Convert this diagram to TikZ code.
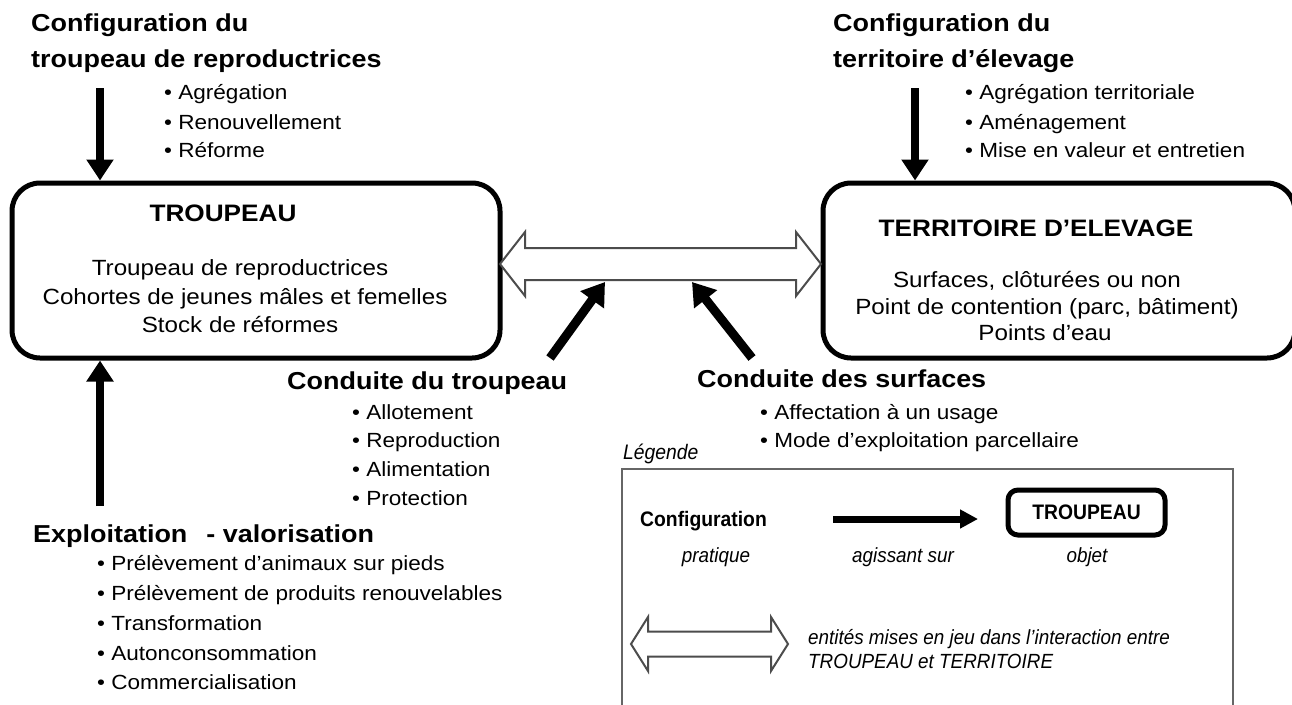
\documentclass[tikz,border=0pt]{standalone}
\usepackage{fontspec}
\setmainfont{Liberation Sans}[FakeStretch=1.1]
\newfontfamily\legfont{Liberation Sans}[FakeStretch=0.92]
\usetikzlibrary{arrows.meta,calc}
\newcommand{\fsz}[1]{\fontsize{#1}{#1}\selectfont}
\tikzset{
  head/.style={font=\fsz{24.5}\bfseries, anchor=base west, inner sep=0pt},
  item/.style={font=\fsz{20.5}, anchor=base west, inner sep=0pt},
  boxtitle/.style={font=\fsz{23.8}\bfseries, anchor=base, inner sep=0pt},
  boxtext/.style={font=\fsz{22}, anchor=base, inner sep=0pt},
  objbox/.style={draw, line width=5pt, rounded corners=28pt, inner sep=0pt},
  bigarrow/.style={line width=8pt, -{Triangle[length=21pt,width=26pt]}},
  diagarrow/.style={line width=9pt, -{Triangle[length=22pt,width=28pt]}},
  legarrow/.style={line width=7pt, -{Triangle[length=18pt,width=18pt]}},
  dblarrow/.style={draw=black!70, line width=2pt, fill=white, line join=miter},
  legbox/.style={draw=black!60, line width=2pt},
  legtext/.style={font=\legfont\fsz{20.5}\itshape, anchor=base, inner sep=0pt},
  legbold/.style={font=\legfont\fsz{21}\bfseries, inner sep=0pt},
}
\begin{document}
\begin{tikzpicture}[x=1pt,y=-1pt]
\useasboundingbox[fill=white] (0,0) rectangle (1292,704);

% objects
\node[objbox, minimum width=488pt, minimum height=175pt] (troupeau) at (256,270.5) {};
\node[objbox, minimum width=472pt, minimum height=175pt] (territoire) at (1059,270.5) {};

\node[boxtitle] (tT) at (223,221) {TROUPEAU};
\node[boxtext] (tL1) at (240,275) {Troupeau de reproductrices};
\node[boxtext] (tL2) at (245,304) {Cohortes de jeunes mâles et femelles};
\node[boxtext] (tL3) at (240,332) {Stock de réformes};

\node[boxtitle] (rT) at (1036,236) {TERRITOIRE D’ELEVAGE};
\node[boxtext] (rL1) at (1037,287) {Surfaces, clôturées ou non};
\node[boxtext] (rL2) at (1047,314) {Point de contention (parc, bâtiment)};
\node[boxtext] (rL3) at (1045,340) {Points d’eau};

% configuration troupeau
\node[head] (cfgA1) at (31,31) {Configuration du};
\node[head] (cfgA2) at (31,67) {troupeau de reproductrices};
\node[item] (cfgAi1) at (164,99) {• Agrégation};
\node[item] (cfgAi2) at (164,129) {• Renouvellement};
\node[item] (cfgAi3) at (164,157) {• Réforme};
\coordinate (cfgAarr) at (100,88);
\draw[bigarrow] (cfgAarr) -- (cfgAarr |- troupeau.north);

% configuration territoire
\node[head] (cfgB1) at (833,31) {Configuration du};
\node[head] (cfgB2) at (833,67) {territoire d’élevage};
\node[item] (cfgBi1) at (965,99) {• Agrégation territoriale};
\node[item] (cfgBi2) at (965,129) {• Aménagement};
\node[item] (cfgBi3) at (965,157) {• Mise en valeur et entretien};
\coordinate (cfgBarr) at (915,88);
\draw[bigarrow] (cfgBarr) -- (cfgBarr |- territoire.north);

% double arrow between objects
\coordinate (dL) at (500,264);
\coordinate (dR) at (821,264);
\draw[dblarrow] (dL) -- ++(25,-32) -- ++(0,16) -- ($(dR)+(-25,-16)$) -- ++(0,-16) -- (dR)
  -- ++(-25,32) -- ++(0,-16) -- ($(dL)+(25,16)$) -- ++(0,16) -- cycle;

% conduite du troupeau
\coordinate (ctT) at (550,358);
\coordinate (ctH) at (605,282);
\draw[diagarrow] (ctT) -- (ctH);
\node[head] (ct) at (287,389) {Conduite du troupeau};
\node[item] (cti1) at (352,419) {• Allotement};
\node[item] (cti2) at (352,447) {• Reproduction};
\node[item] (cti3) at (352,476) {• Alimentation};
\node[item] (cti4) at (352,505) {• Protection};

% conduite des surfaces
\coordinate (csT) at (752,358);
\coordinate (csH) at (692,282);
\draw[diagarrow] (csT) -- (csH);
\node[head] (cs) at (697,387) {Conduite des surfaces};
\node[item] (csi1) at (760,419) {• Affectation à un usage};
\node[item] (csi2) at (760,447) {• Mode d’exploitation parcellaire};

% exploitation
\coordinate (exT) at (100,506);
\draw[bigarrow] (exT) -- (exT |- troupeau.south);
\node[head] (ex) at (33,542) {Exploitation\hspace{19pt}- valorisation};
\node[item] (exi1) at (97,570) {• Prélèvement d’animaux sur pieds};
\node[item] (exi2) at (97,600) {• Prélèvement de produits renouvelables};
\node[item] (exi3) at (97,630) {• Transformation};
\node[item] (exi4) at (97,660) {• Autonconsommation};
\node[item] (exi5) at (97,689) {• Commercialisation};

% legend
\node[font=\legfont\fsz{21}\itshape, anchor=base west, inner sep=0pt] (leg) at (623,459) {Légende};
\draw[legbox] (622,469) rectangle (1233,730);
\node[legbold, anchor=base west] (legCfg) at (640,526.5) {Configuration};
\node[legtext] (legPr) at (716,562) {pratique};
\coordinate (legA) at (833,519);
\coordinate (legB) at (978,519);
\draw[legarrow] (legA) -- (legB);
\node[legtext] (legAg) at (903,562) {agissant sur};
\node[draw, line width=5pt, rounded corners=10pt, minimum width=157pt, minimum height=45pt, legbold] (legObj) at (1086.5,512.5) {TROUPEAU};
\node[legtext] (legOb) at (1087,562) {objet};
\coordinate (ldL) at (631,644);
\coordinate (ldR) at (788,644);
\draw[dblarrow] (ldL) -- ++(17,-27) -- ++(0,14.5) -- ($(ldR)+(-17,-12.5)$) -- ++(0,-14.5) -- (ldR)
  -- ++(-17,27) -- ++(0,-14.5) -- ($(ldL)+(17,12.5)$) -- ++(0,14.5) -- cycle;
\node[legtext, anchor=base west] (legE1) at (808,644) {entités mises en jeu dans l’interaction entre};
\node[legtext, anchor=base west] (legE2) at (808,668) {TROUPEAU et TERRITOIRE};
\end{tikzpicture}
\end{document}
